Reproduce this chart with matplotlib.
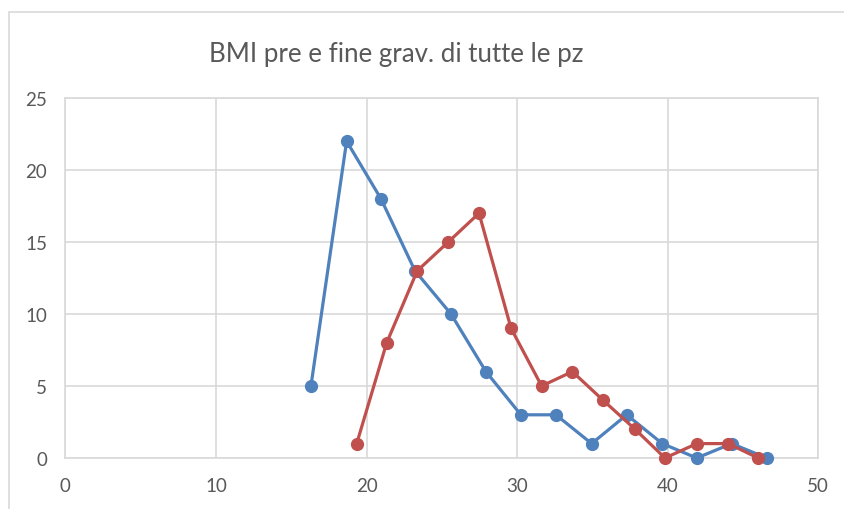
import matplotlib
matplotlib.use("Agg")
import matplotlib.pyplot as plt
from matplotlib.patches import Rectangle

# BMI classes (x) and patient counts (y) for the two series
bmi_pre = [16.31, 18.68, 20.96, 23.22, 25.61, 27.93, 30.25, 32.58, 34.95, 37.28, 39.64, 41.93, 44.25, 46.57]
count_pre = [5, 22, 18, 13, 10, 6, 3, 3, 1, 3, 1, 0, 1, 0]

bmi_fine = [19.35, 21.34, 23.37, 25.43, 27.47, 29.6, 31.63, 33.67, 35.72, 37.83, 39.82, 41.93, 44.02, 46.0]
count_fine = [1, 8, 13, 15, 17, 9, 5, 6, 4, 2, 0, 1, 1, 0]

x_ticks = [0, 10, 20, 30, 40, 50]
y_ticks = [0, 5, 10, 15, 20, 25]

title = "BMI pre e fine grav. di tutte le pz"

plt.rcParams["font.family"] = ["Lato", "DejaVu Sans"]

W, H = 844, 510
fig = plt.figure(figsize=(W / 100, H / 100), dpi=100)
fig.patch.set_facecolor("white")

# chart frame
fig.add_artist(Rectangle((9 / W, -0.05), 1.2, 1 - 13 / H + 0.05, transform=fig.transFigure,
                         fill=False, edgecolor="#d9d9d9", linewidth=1.2))

ax = fig.add_axes([65.3 / W, 1 - 459 / H, (818.3 - 65.3) / W, (459 - 99) / H])
ax.set_xlim(0, 50)
ax.set_ylim(0, 25)
ax.set_xticks(x_ticks)
ax.set_yticks(y_ticks)
ax.grid(True, color="#d9d9d9", linewidth=1.2)
ax.set_axisbelow(True)
for s in ax.spines.values():
    s.set_color("#d9d9d9")
    s.set_linewidth(1.2)
ax.tick_params(length=0, colors="#595959", labelsize=13.5)
ax.tick_params(axis="y", pad=13)
ax.tick_params(axis="x", pad=14)

blue = "#4F81BD"
red = "#C0504D"
ax.plot(bmi_pre, count_pre, color=blue, linewidth=2.3, marker="o", markersize=8.5, clip_on=False, zorder=3)
ax.plot(bmi_fine, count_fine, color=red, linewidth=2.3, marker="o", markersize=8.5, clip_on=False, zorder=4)

fig.text(396.5 / W, 1 - 62 / H, title, ha="center", va="baseline", fontsize=18.6, color="#595959")

fig.savefig("out.png", dpi=100)
